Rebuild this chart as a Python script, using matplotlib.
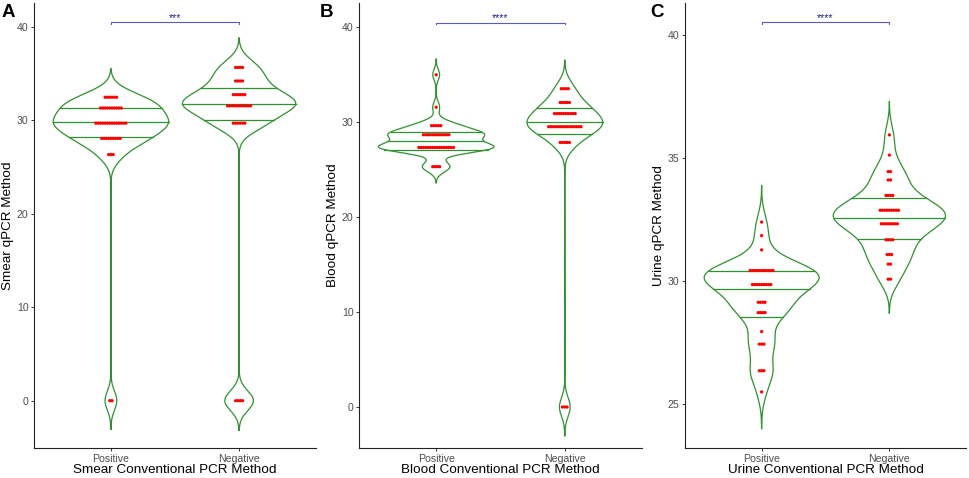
import numpy as np
import matplotlib
matplotlib.use("Agg")
import matplotlib.pyplot as plt

plt.rcParams['font.family'] = ['Liberation Sans', 'DejaVu Sans']

categories = ["Positive", "Negative"]

# Panel A: Smear (row value, number of dots in that row)
smear_pos_vals = [32.45, 31.3, 29.68, 28.05, 26.32, 0.0]
smear_pos_counts = [6, 10, 14, 9, 3, 2]
smear_neg_vals = [35.64, 34.19, 32.73, 31.53, 29.68, 0.0]
smear_neg_counts = [4, 4, 6, 11, 6, 4]

# Panel B: Blood
blood_pos_vals = [35.0, 31.58, 29.64, 28.68, 27.34, 25.32]
blood_pos_counts = [1, 1, 5, 12, 16, 4]
blood_neg_vals = [33.53, 32.08, 30.91, 29.53, 27.87, 0.0]
blood_neg_counts = [4, 5, 10, 15, 5, 3]

# Panel C: Urine
urine_pos_vals = [32.39, 31.84, 31.26, 30.42, 29.85, 29.13, 28.71, 27.94, 27.43, 26.35, 25.49]
urine_pos_counts = [1, 1, 1, 11, 9, 4, 4, 1, 3, 3, 1]
urine_neg_vals = [35.93, 35.11, 34.44, 34.1, 33.47, 32.87, 32.32, 31.67, 31.07, 30.68, 30.07]
urine_neg_counts = [1, 1, 2, 2, 4, 9, 8, 4, 3, 2, 2]

panel_letters = ["A", "B", "C"]
y_labels = ["Smear qPCR Method", "Blood qPCR Method", "Urine qPCR Method"]
x_labels = ["Smear Conventional PCR Method", "Blood Conventional PCR Method",
            "Urine Conventional PCR Method"]
signif_labels = ["***", "****", "****"]
signif_y = [40.5, 40.5, 40.5]
y_ticks = [[0, 10, 20, 30, 40], [0, 10, 20, 30, 40], [25, 30, 35, 40]]
y_lims = [(-5.06, 42.53), (-4.32, 42.56), (23.21, 41.29)]

panels = [
    ((smear_pos_vals, smear_pos_counts), (smear_neg_vals, smear_neg_counts)),
    ((blood_pos_vals, blood_pos_counts), (blood_neg_vals, blood_neg_counts)),
    ((urine_pos_vals, urine_pos_counts), (urine_neg_vals, urine_neg_counts)),
]
# kernel bandwidth adjustment per violin (style)
bw_adjust = [(1.0, 1.05), (1.3, 2.3), (0.9, 0.85)]

VIOLIN_COLOR = "#2f912f"
DOT_COLOR = "#ff0000"


def r_density(x, adjust=1.0, n=512, cut=3):
    x = np.asarray(x, float)
    nx = len(x)
    sd = x.std(ddof=1)
    q75, q25 = np.percentile(x, [75, 25])
    lo = min(sd, (q75 - q25) / 1.34)
    bw = 0.9 * lo * nx ** -0.2 * adjust
    grid = np.linspace(x.min() - cut * bw, x.max() + cut * bw, n)
    dens = np.exp(-0.5 * ((grid[:, None] - x[None, :]) / bw) ** 2).sum(1) / (nx * bw * np.sqrt(2 * np.pi))
    return grid, dens


W, H = 969, 478
fig = plt.figure(figsize=(W / 100, H / 100), dpi=100)

axes_px = [(34, 316), (359, 642), (685, 966)]
letter_px = [2, 320, 650]
top_px, bot_px = 3, 448
dot_spacing = 0.018

for i, (ax_px, grp) in enumerate(zip(axes_px, panels)):
    l, r = ax_px
    ax = fig.add_axes([l / W, (H - bot_px) / H, (r - l) / W, (bot_px - top_px) / H])
    ax.set_xlim(0.4, 2.6)
    ax.set_ylim(*y_lims[i])

    data = [np.repeat(v, c) for v, c in grp]
    dens_all = [r_density(d, bw_adjust[i][k]) for k, d in enumerate(data)]
    maxd = max(d.max() for _, d in dens_all)

    for k, ((grid, dens), d) in enumerate(zip(dens_all, data)):
        xc = k + 1
        hw = 0.45 * dens / maxd
        xs = np.concatenate([xc - hw, (xc + hw)[::-1], [xc - hw[0]]])
        ys = np.concatenate([grid, grid[::-1], [grid[0]]])
        ax.fill(xs, ys, color="white", zorder=1)
        ax.plot(xs, ys, color=VIOLIN_COLOR, lw=0.9, zorder=2)
        cdf = np.cumsum(dens) / dens.sum()
        for q in (0.25, 0.5, 0.75):
            yq = np.interp(q, cdf, grid)
            wq = np.interp(yq, grid, hw)
            ax.plot([xc - wq, xc + wq], [yq, yq], color=VIOLIN_COLOR, lw=0.9, zorder=2)
        vals, counts = grp[k]
        for v, c in zip(vals, counts):
            offs = (np.arange(c) - (c - 1) / 2) * dot_spacing
            ax.scatter(xc + offs, np.full(c, v), s=5.5, color=DOT_COLOR,
                       edgecolors="none", zorder=3)

    # significance bracket
    ys_ = signif_y[i]
    tip = (y_lims[i][1] - y_lims[i][0]) * 0.004
    ax.plot([1, 1, 2, 2], [ys_ - tip, ys_, ys_, ys_ - tip], color="#5a5abf", lw=0.8, zorder=4)
    ax.text(1.5, ys_ + (y_lims[i][1] - y_lims[i][0]) * 0.003, signif_labels[i],
            ha="center", va="baseline", fontsize=7.5, color="#22228a")

    ax.set_xticks([1, 2])
    ax.set_xticklabels(categories)
    ax.set_yticks(y_ticks[i])
    for s in ("top", "right"):
        ax.spines[s].set_visible(False)
    for s in ("left", "bottom"):
        ax.spines[s].set_color("#222222")
        ax.spines[s].set_linewidth(0.8)
    ax.tick_params(axis="both", length=2.5, width=0.7, color="#333333",
                   labelsize=7.6, labelcolor="#4d4d4d", pad=1.5)
    ax.set_xlabel(x_labels[i], fontsize=9.7, color="black", labelpad=0.5)
    ax.set_ylabel(y_labels[i], fontsize=9.7, color="black", labelpad=2)

    fig.text(letter_px[i] / W, 1 - 4 / H, panel_letters[i], fontsize=13.5, fontweight="bold",
             ha="left", va="top")

fig.savefig("out.png", dpi=100)
